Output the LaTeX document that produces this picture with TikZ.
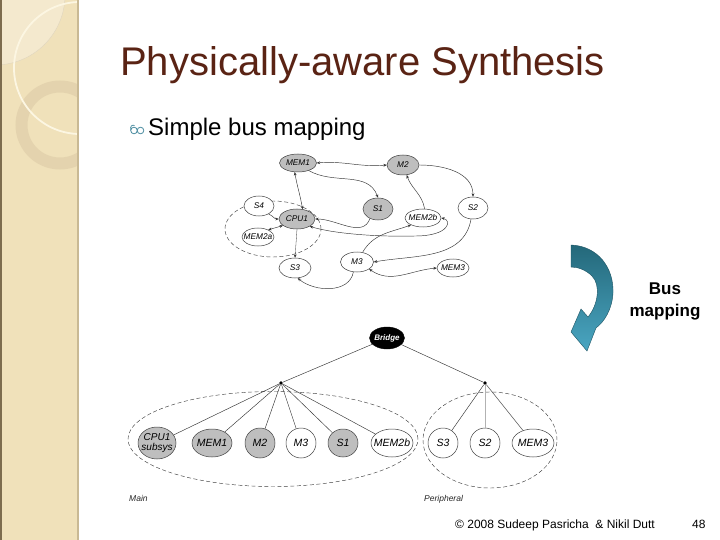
\documentclass[tikz,border=0pt]{standalone}
\usepackage{fontspec}
\setmainfont{Liberation Sans}
\usetikzlibrary{arrows.meta,shapes.geometric}
\definecolor{strip}{HTML}{F0E1BA}
\definecolor{stripLight}{HTML}{F4E9CE}
\definecolor{stripEdge}{HTML}{C9B994}
\definecolor{stripDark}{HTML}{7D6C4E}
\definecolor{ringc}{HTML}{E0CFAA}
\definecolor{arcc}{HTML}{FCF6E2}
\definecolor{titlec}{HTML}{5A2314}
\definecolor{gfill}{HTML}{BEBEBE}
\definecolor{bullc}{HTML}{4A8CA0}
\definecolor{arrTop}{HTML}{24687A}
\definecolor{arrBot}{HTML}{4AA6C2}
\begin{document}
\begin{tikzpicture}[x=1pt,y=-1pt,
  gn/.style={ellipse,draw=black!75,line width=0.5pt,inner xsep=-4pt,inner ysep=-3pt,
             font=\fontsize{8.3}{9}\selectfont\itshape,fill=white},
  bn/.style={ellipse,draw=black!75,line width=0.5pt,inner xsep=-6pt,inner ysep=-3pt,
             font=\fontsize{10.5}{11}\selectfont\itshape,fill=white,align=center},
  gf/.style={fill=gfill},
  ed/.style={line width=0.45pt,draw=black!80},
  atip/.style={-{Stealth[length=3.4pt,width=2.8pt]}},
  btip/.style={{Stealth[length=3.4pt,width=2.8pt]}-{Stealth[length=3.4pt,width=2.8pt]}},
  grp/.style={ellipse,draw=black!75,line width=0.45pt,dash pattern=on 4pt off 2.5pt,inner sep=0pt},
  dotn/.style={circle,fill=black,inner sep=0pt,minimum size=3.6pt},
  lbl/.style={font=\fontsize{8.5}{9}\selectfont\itshape,anchor=base west,inner sep=0pt,text=black!85}
]
\useasboundingbox (0,0) rectangle (720,540);
\fill[white] (0,0) rectangle (720,540);

% ---- left decorative strip ----
\fill[strip] (0,0) rectangle (78,540);
\begin{scope}
  \clip (0,0) rectangle (77,540);
  \fill[stripLight] (-5,-5) circle (70);
  \draw[stripEdge!60,line width=0.4pt] (-5,-5) circle (70);
  \draw[ringc,line width=12pt,opacity=0.75] (60,125) circle (38.5);
  \draw[arcc,line width=1.8pt] (80,68) circle (66);
\end{scope}
\fill[stripEdge] (76.5,0) rectangle (79,540);
\fill[stripDark] (0,0) rectangle (1.5,540);

% ---- title and bullet ----
\node[anchor=base west,inner sep=0pt,font=\fontsize{40}{44}\selectfont,text=titlec] (title) at (120,76) {Physically-aware Synthesis};
\node[anchor=base west,inner sep=0pt,font=\fontsize{24}{28}\selectfont] (bullet) at (148,136) {Simple bus mapping};
\begin{scope}[bullc,line width=0.8pt]
  \draw (134,130.5) circle (3.3);
  \draw (140.5,130.5) circle (3.3);
  \draw (130.7,130.5) .. controls (130,126) and (132,124.5) .. (134.5,125.5);
\end{scope}

% ---- top graph ----
\node[grp,minimum width=96,minimum height=56] (grpA) at (273,229) {};
\node[gn,gf,minimum width=37,minimum height=18] (MEMa) at (298,163) {MEM1};
\node[gn,gf,minimum width=32,minimum height=20] (Mb) at (403,165) {M2};
\node[gn,minimum width=30,minimum height=20] (Sd) at (259,206) {S4};
\node[gn,gf,minimum width=36,minimum height=20] (CPU) at (297,219) {CPU1};
\node[gn,gf,minimum width=30,minimum height=22] (Sa) at (378,209) {S1};
\node[gn,minimum width=36,minimum height=18] (MEMbb) at (423,218) {MEM2b};
\node[gn,minimum width=30,minimum height=22] (Sb) at (473,208) {S2};
\node[gn,minimum width=32,minimum height=18] (MEMba) at (258,237) {MEM2a};
\node[gn,minimum width=33,minimum height=20] (Mc) at (357,262) {M3};
\node[gn,minimum width=32,minimum height=20] (Sc) at (295,268) {S3};
\node[gn,minimum width=32,minimum height=18] (MEMc) at (453,268) {MEM3};

\draw[ed,btip] (MEMa.east) to[out=5,in=185] (Mb.west);
\draw[ed,atip] (MEMa.-35) to[out=-30,in=110] (Sa.north);
\draw[ed,btip] (MEMa.250) to[out=-80,in=100] (CPU.60);
\draw[ed,atip] (Mb.east) to[out=0,in=90] (Sb.north);
\draw[ed,atip] (MEMbb.80) to[out=100,in=-70] (Mb.-70);
\draw[ed,atip] (Sa.230) to[out=-110,in=0] (CPU.east);
\draw[ed,atip] (Sd.-40) to[out=-20,in=180] (CPU.west);
\draw[ed,btip] (MEMba.35) to (CPU.205);
\draw[ed,atip,line width=0.3pt] (CPU.south) to (Sc.north);
\draw[ed,atip] (Mc.60) to[out=60,in=200] (MEMbb.210);
\draw[ed,btip] (MEMbb.east) .. controls (452,220) and (450,236) .. (415,236)
                 .. controls (380,237) and (335,234) .. (CPU.-30);
\draw[ed,atip] (Sb.-100) to[out=-100,in=10] (Mc.east);
\draw[ed,btip] (Mc.-30) to[out=-35,in=185] (MEMc.west);
\draw[ed,atip] (Mc.-110) to[out=-100,in=-40] (Sc.-75);

% ---- bus mapping arrow ----
\shade[top color=arrTop,bottom color=arrBot]
  (571,245) .. controls (598,246) and (614,268) .. (613,293)
  .. controls (612,310) and (604,322) .. (596,328)
  -- (587,351) -- (571,332) -- (581,309) -- (588,317)
  .. controls (598,305) and (601,285) .. (592,276)
  .. controls (586,270) and (578,267) .. (571,267) -- cycle;
\draw[arrTop!80!black,line width=0.4pt]
  (571,245) .. controls (598,246) and (614,268) .. (613,293)
  .. controls (612,310) and (604,322) .. (596,328)
  -- (587,351) -- (571,332) -- (581,309) -- (588,317)
  .. controls (598,305) and (601,285) .. (592,276)
  .. controls (586,270) and (578,267) .. (571,267) -- cycle;
\node[align=center,font=\bfseries\fontsize{17}{22}\selectfont] (busmap) at (665,301) {Bus\\mapping};

% ---- bottom graph ----
\node[grp,minimum width=290,minimum height=95] (mainG) at (273,439) {};
\node[grp,minimum width=134,minimum height=96] (perG) at (490,440) {};
\node[ellipse,fill=black,draw=black,inner xsep=-2pt,inner ysep=-3pt,minimum width=35,minimum height=22,
      text=white,font=\fontsize{8}{9}\selectfont\bfseries\itshape] (bridge) at (387,338) {Bridge};
\node[dotn] (dM) at (281,383) {};
\node[dotn] (dP) at (485,383) {};

\node[bn,gf,minimum width=38,minimum height=32,font=\fontsize{10}{10}\selectfont\itshape] (bCPU) at (157,443) {CPU1\\subsys};
\node[bn,gf,minimum width=40,minimum height=28] (bMEMa) at (212,443) {MEM1};
\node[bn,gf,minimum width=30,minimum height=30] (bMb) at (260,443) {M2};
\node[bn,minimum width=30,minimum height=30] (bMc) at (301,443) {M3};
\node[bn,gf,minimum width=30,minimum height=28] (bSa) at (343,443) {S1};
\node[bn,minimum width=42,minimum height=28] (bMEMbb) at (392,443) {MEM2b};
\node[bn,minimum width=30,minimum height=30] (bSc) at (443,443) {S3};
\node[bn,minimum width=30,minimum height=30] (bSb) at (485,443) {S2};
\node[bn,minimum width=42,minimum height=28] (bMEMc) at (533,443) {MEM3};

\draw[ed] (bridge) -- (dM);
\draw[ed] (bridge) -- (dP);
\foreach \n in {bCPU,bMEMa,bMb,bMc,bSa,bMEMbb} \draw[ed] (dM) -- (\n);
\draw[ed] (dP) -- (bSc);
\draw[ed] (dP) -- (bMEMc);
\draw[line width=0.45pt,black!30] (dP) -- (bSb);

\node[lbl] (mainL) at (129,501) {Main};
\node[lbl] (perL) at (424,501) {Peripheral};

% ---- footer ----
\node[anchor=base west,inner sep=0pt,font=\fontsize{12}{14}\selectfont] (foot) at (455,528) {© 2008 Sudeep Pasricha \ \& Nikil Dutt};
\node[anchor=base west,inner sep=0pt,font=\fontsize{12}{14}\selectfont] (pnum) at (692,528) {48};
\end{tikzpicture}
\end{document}
